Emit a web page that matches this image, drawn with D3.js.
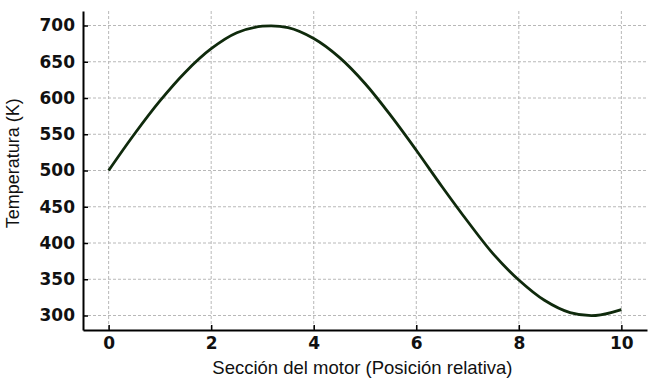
<!DOCTYPE html>
<html>
<head>
<meta charset="utf-8">
<script src="https://cdn.jsdelivr.net/npm/d3@7"></script>
<style>
  body { margin: 0; background: #fff; }
  svg { display: block; }
</style>
</head>
<body>
<div id="chart"></div>
<script>
// valores
var posiciones = [0, 0.5, 1, 1.5, 2, 2.5, 3, 3.5, 4, 4.5, 5, 5.5, 6, 6.5, 7, 7.5, 8, 8.5, 9, 9.5, 10];
var temperaturas = [500, 550, 596, 636, 668, 690, 699, 697, 682, 656, 620, 576, 528, 478, 430, 385, 349, 321, 304, 300, 308];
var ticks_x = [0, 2, 4, 6, 8, 10];
var ticks_y = [300, 350, 400, 450, 500, 550, 600, 650, 700];

var ancho = 666, altura = 382;
var margin = { top: 11, right: 19, bottom: 52, left: 83 },
  width = ancho - margin.left - margin.right,
  height = altura - margin.top - margin.bottom;

var x = d3.scaleLinear().domain([-0.5, 10.5]).range([0, width]);
var y = d3.scaleLinear().domain([280, 720]).range([height, 0]);

var svg = d3.select("#chart").append("svg")
  .attr("width", ancho)
  .attr("height", altura)
  .append("g")
  .attr("transform", "translate(" + margin.left + "," + margin.top + ")");

// rejilla
svg.append("g")
  .selectAll("line")
  .data(ticks_x)
  .enter().append("line")
  .attr("x1", function (d) { return x(d); })
  .attr("x2", function (d) { return x(d); })
  .attr("y1", 0)
  .attr("y2", height)
  .attr("stroke", "#b8b8b8")
  .attr("stroke-width", 1)
  .style("stroke-dasharray", "3,2");

svg.append("g")
  .selectAll("line")
  .data(ticks_y)
  .enter().append("line")
  .attr("x1", 0)
  .attr("x2", width)
  .attr("y1", function (d) { return y(d); })
  .attr("y2", function (d) { return y(d); })
  .attr("stroke", "#b8b8b8")
  .attr("stroke-width", 1)
  .style("stroke-dasharray", "3,2");

// ejes
var ejeX = svg.append("g")
  .attr("transform", "translate(0," + height + ")")
  .call(d3.axisBottom(x).tickValues(ticks_x).tickSizeInner(-5).tickSizeOuter(0).tickPadding(7));

var ejeY = svg.append("g")
  .call(d3.axisLeft(y).tickValues(ticks_y).tickSizeInner(-5).tickSizeOuter(0).tickPadding(8));

[ejeX, ejeY].forEach(function (eje) {
  eje.select(".domain").attr("stroke", "#000").attr("stroke-width", 2);
  eje.selectAll(".tick line").attr("stroke", "#000").attr("stroke-width", 1.5);
  eje.selectAll(".tick text")
    .style("font-family", "DejaVu Sans, sans-serif")
    .style("font-weight", "bold")
    .style("font-size", "17px")
    .attr("fill", "#111");
});

// curva
var linea = d3.line()
  .x(function (d, i) { return x(posiciones[i]); })
  .y(function (d) { return y(d); })
  .curve(d3.curveCatmullRom);

svg.append("path")
  .datum(temperaturas)
  .attr("d", linea)
  .attr("fill", "none")
  .attr("stroke", "#0f2a0c")
  .attr("stroke-width", 2.8);

// etiquetas
svg.append("text")
  .attr("x", x(4.95))
  .attr("y", height + 44)
  .attr("text-anchor", "middle")
  .style("font-family", "Liberation Sans, Arial, sans-serif")
  .style("font-size", "18.5px")
  .attr("fill", "#111")
  .text("Sección del motor (Posición relativa)");

svg.append("text")
  .attr("transform", "rotate(-90)")
  .attr("x", -y(510))
  .attr("y", -64)
  .attr("text-anchor", "middle")
  .style("font-family", "Liberation Sans, Arial, sans-serif")
  .style("font-size", "18px")
  .attr("fill", "#111")
  .text("Temperatura (K)");
</script>
</body>
</html>
